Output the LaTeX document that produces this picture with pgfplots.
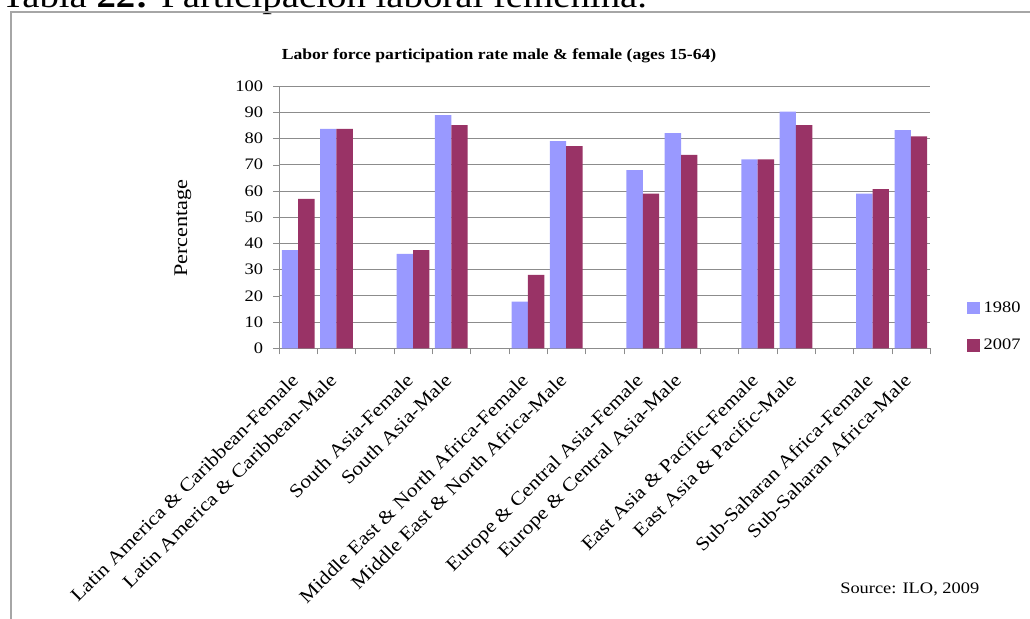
\documentclass[border=0pt]{standalone}
\usepackage{fontspec}
\setmainfont{Liberation Serif}[FakeStretch=1.15]
\usepackage{pgfplots}
\usepackage{pgfplotstable}
\pgfplotsset{compat=1.18}

\definecolor{cA}{HTML}{9999FF}
\definecolor{cB}{HTML}{993366}
\definecolor{gridc}{HTML}{8C8C8C}
\definecolor{framec}{HTML}{A6A6A6}

% pos = slot on the category axis, gaps left between regions
\pgfplotstableread{
pos y1980 y2007
0   37.4  57.0
1   83.7  83.7
3   36.0  37.4
4   88.9  85.1
6   17.8  28.0
7   79.0  77.1
9   67.9  59.0
10  82.0  73.8
12  72.0  72.0
13  90.2  85.1
15  59.0  60.7
16  83.2  80.8
}\labordata

% pixel-style coordinates: 1px = 0.75pt, y grows downward
\newcommand{\px}[2]{({#1*0.75pt},{-#2*0.75pt})}

\begin{document}
\begin{tikzpicture}
\useasboundingbox \px{0}{0} rectangle \px{1030}{618};

% caption above the chart box
\node[anchor=base west, inner sep=0pt, font=\fontsize{25.3}{28}\selectfont]
  at \px{1}{7} {Tabla \textbf{22:} Participación laboral femenina.};

% chart box
\draw[framec, line width=1pt] \px{11}{625} -- \px{11}{12} -- \px{1040}{12};

\begin{axis}[
  at={(209.25pt,-261.225pt)}, anchor=south west,
  scale only axis,
  width=488.25pt, height=196.7pt,
  ybar=0pt, bar width=0.427,
  xmin=-0.5, xmax=16.5,
  ymin=0, ymax=100,
  axis x line*=bottom, axis y line*=left,
  axis line style={gridc, -},
  xtick={0,1,3,4,6,7,9,10,12,13,15,16},
  xticklabels={
    Latin America \& Caribbean-Female, Latin America \& Caribbean-Male,
    South Asia-Female, South Asia-Male,
    Middle East \& North Africa-Female, Middle East \& North Africa-Male,
    Europe \& Central Asia-Female, Europe \& Central Asia-Male,
    East Asia \& Pacific-Female, East Asia \& Pacific-Male,
    Sub-Saharan Africa-Female, Sub-Saharan Africa-Male},
  major x tick style={draw=none},
  minor xtick={-0.5,0.5,...,16.5},
  minor x tick style={gridc},
  minor tick length=4.5pt,
  % shifts act in the rotated frame of the label
  xticklabel style={rotate=45, anchor=north east, inner sep=0pt,
    font=\fontsize{14.1}{16}\selectfont, xshift=-13.6pt, yshift=-5.1pt},
  ytick={0,10,...,100},
  major tick length=4.5pt,
  tick align=outside,
  y tick style={gridc},
  yticklabel style={font=\fontsize{12}{14}\selectfont, xshift=-4pt},
  /pgf/number format/assume math mode=true,
  ymajorgrids, grid style={gridc, line width=0.6pt},
  ylabel={Percentage},
  every axis y label/.style={at={(axis description cs:-0.1475,0.459)},
    rotate=90, anchor=center, font=\fontsize{14.5}{16}\selectfont},
  legend style={at={(axis description cs:1.057,0.192)}, anchor=north west,
    draw=none, fill=none, inner sep=0pt, row sep=13.5pt,
    font=\fontsize{12}{14}\selectfont,
    nodes={inner sep=2.5pt}},
  legend cell align=left,
  legend image code/.code={\fill[#1] (0pt,-4.75pt) rectangle (9.75pt,4.75pt);},
]
\addplot[fill=cA, draw=none] table[x=pos, y=y1980] {\labordata};
\addplot[fill=cB, draw=none] table[x=pos, y=y2007] {\labordata};
\legend{1980, 2007}
\end{axis}

\node[anchor=base, inner sep=0pt, font=\fontsize{11.5}{14}\selectfont\bfseries]
  at \px{499}{59} {Labor force participation rate male \& female (ages 15-64)};
\node[anchor=base west, inner sep=0pt, font=\fontsize{12}{14}\selectfont]
  at \px{840}{593} {Source: ILO, 2009};
\end{tikzpicture}
\end{document}
